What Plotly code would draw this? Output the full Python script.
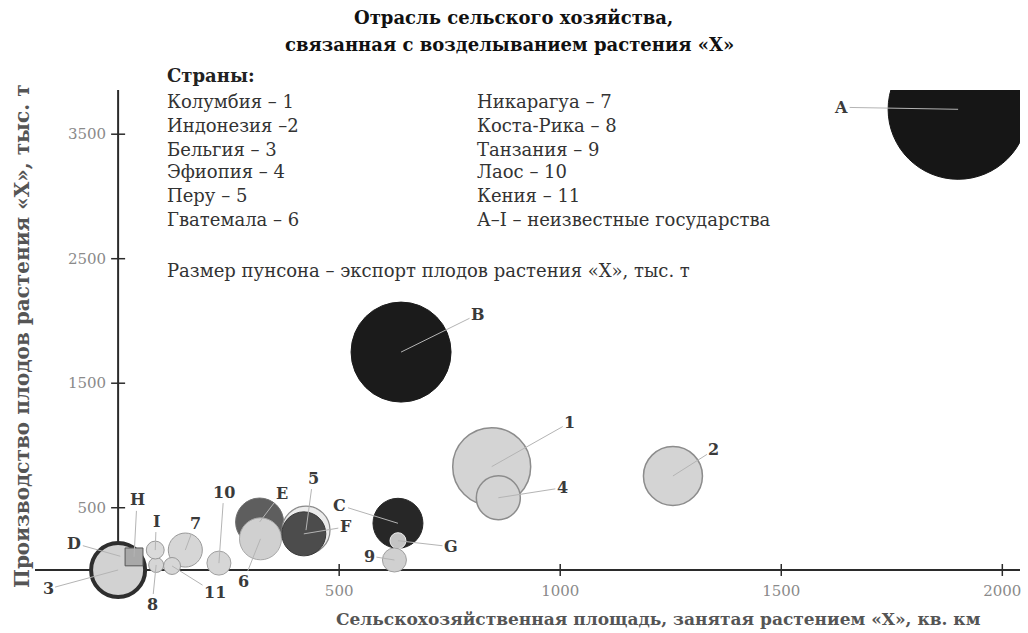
import plotly.graph_objects as go

# ---------------- data ----------------
labels = ["A", "B", "1", "4", "2", "C", "G", "9", "E", "6", "5", "F",
          "10", "7", "11", "8", "I", "D", "3", "H"]
area_km2 = [1900, 640, 845, 860, 1255, 633, 633, 625, 320, 322, 425, 420,
            228, 152, 122, 86, 84, 5, 0, 36]
production_kt = [3700, 1750, 830, 580, 755, 375, 235, 80, 385, 250, 320, 290,
                 55, 160, 32, 40, 160, 110, 0, 105]
export_kt = [2450, 1250, 760, 242, 435, 312, 32, 72, 288, 220, 288, 242,
             72, 145, 36, 28, 40, 18, 365, 40]

x_ticks = [500, 1000, 1500, 2000]
x_ticktext = ["500", "1000", "1500", "2000"]
y_ticks = [500, 1500, 2500, 3500]
y_ticktext = ["500", "1500", "2500", "3500"]

countries_left = ["Колумбия – 1", "Индонезия –2", "Бельгия – 3",
                  "Эфиопия – 4", "Перу – 5", "Гватемала – 6"]
countries_right = ["Никарагуа – 7", "Коста-Рика – 8", "Танзания – 9",
                   "Лаос – 10", "Кения – 11", "А–I – неизвестные государства"]

# ---------------- styles ----------------
LIGHT = "#d4d4d4"
style = {
    "A": ("#161616", "#161616", 1), "B": ("#1b1b1b", "#1b1b1b", 1),
    "C": ("#272727", "#272727", 1), "1": (LIGHT, "#8c8c8c", 1.5),
    "4": (LIGHT, "#8c8c8c", 1.5), "2": (LIGHT, "#8c8c8c", 1.5),
    "G": ("#c4c4c4", "#eeeeee", 1), "9": ("#d0d0d0", "#a0a0a0", 1),
    "E": ("#5e5e5e", "#707070", 1), "6": ("#d0d0d0", "#a8a8a8", 1),
    "5": ("#ececec", "#8a8a8a", 1.2), "F": ("#4c4c4c", "#3a3a3a", 1),
    "10": ("#d6d6d6", "#a0a0a0", 1), "7": ("#d6d6d6", "#999999", 1),
    "11": ("#d6d6d6", "#999999", 1), "8": ("#d6d6d6", "#999999", 1),
    "I": ("#dadada", "#999999", 1), "D": ("#aaaaaa", "#888888", 1),
    "3": ("#d2d2d2", "#2e2e2e", 4), "H": ("#a8a8a8", "#555555", 1),
}
symbols = ["square" if l == "H" else "circle" for l in labels]

# label offsets (px) of the callout text from each bubble
offsets = {
    "A": (-117, -2), "B": (77, -38), "1": (78, -44), "2": (41, -26),
    "4": (64, -10), "C": (-58, -18), "G": (53, 6), "9": (-25, -4),
    "E": (22, -29), "6": (-17, 43), "5": (7, -52), "F": (42, -7),
    "10": (5, -71), "3": (-70, 19), "D": (-46, -13), "H": (3, -57),
    "I": (1, -29), "7": (10, -27), "8": (-4, 40), "11": (43, 27),
}

X_RANGE = [-188, 2040]
Y_RANGE = [-442, 3855]
SERIF = "DejaVu Serif"

fig = go.Figure()
fig.add_trace(go.Scatter(
    x=area_km2, y=production_kt, mode="markers",
    marker=dict(
        size=export_kt, sizemode="area", sizeref=0.25,
        color=[style[l][0] for l in labels],
        line=dict(color=[style[l][1] for l in labels],
                  width=[style[l][2] for l in labels]),
        symbol=symbols, opacity=1,
    ),
    text=labels, hoverinfo="text+x+y", showlegend=False,
))

# axes drawn through the origin
shapes = [
    dict(type="line", xref="x", yref="y", x0=X_RANGE[0], x1=X_RANGE[1], y0=0, y1=0,
         line=dict(color="#2b2b2b", width=2), layer="below"),
    dict(type="line", xref="x", yref="y", x0=0, x1=0, y0=0, y1=Y_RANGE[1],
         line=dict(color="#2b2b2b", width=2), layer="below"),
]
for t in x_ticks:
    shapes.append(dict(type="line", xref="x", yref="y", ysizemode="pixel", yanchor=0,
                       x0=t, x1=t, y0=-6, y1=6, line=dict(color="#2b2b2b", width=1.5),
                       layer="below"))
for t in y_ticks:
    shapes.append(dict(type="line", xref="x", yref="y", xsizemode="pixel", xanchor=0,
                       y0=t, y1=t, x0=-7, x1=7, line=dict(color="#2b2b2b", width=1.5),
                       layer="below"))

annotations = []
for l, xv, yv in zip(labels, area_km2, production_kt):
    ax, ay = offsets[l]
    annotations.append(dict(
        x=xv, y=yv, xref="x", yref="y", text=f"<b>{l}</b>", showarrow=True, arrowhead=0,
        arrowwidth=1, arrowcolor="#b4b4b4", ax=ax, ay=ay,
        font=dict(family=SERIF, size=16, color="#3a3a3a"),
    ))

L, R, T, B = 35, 1020, 90, 625
def px(xp):
    return (xp - L) / (R - L)
def py(yp):
    return (B - yp) / (B - T)

def txt(text, xp, yp, size, bold=False, color="#333333", xanchor="left", angle=0):
    annotations.append(dict(
        x=px(xp), y=py(yp), xref="paper", yref="paper", showarrow=False,
        text=f"<b>{text}</b>" if bold else text, xanchor=xanchor, yanchor="middle",
        textangle=angle, font=dict(family=SERIF, size=size, color=color),
    ))

# title
txt("Отрасль сельского хозяйства,", 513, 18, 18, True, "#111111", "center")
txt("связанная с возделыванием растения «Х»", 509, 44, 18, True, "#111111", "center")

# legend block
txt("Страны:", 165, 76, 18, True, "#222222")
row_y = [101, 125, 149, 172, 195, 219]
for name, yy in zip(countries_left, row_y):
    txt(name, 165, yy, 18, False, "#333333")
for name, yy in zip(countries_right, row_y):
    txt(name, 475, yy, 18, False, "#333333")
txt("Размер пунсона – экспорт плодов растения «Х», тыс. т", 165, 270, 18, False, "#333333")

# axis titles
txt("Сельскохозяйственная площадь, занятая растением «Х», кв. км", 658, 619, 17, True,
    "#555555", "center")
txt("Производство плодов растения «Х», тыс. т", 22, 336, 20, True, "#555555", "center", -90)

fig.update_layout(
    width=1028, height=633,
    margin=dict(l=L, r=1028 - R, t=T, b=633 - B),
    paper_bgcolor="white", plot_bgcolor="white",
    xaxis=dict(range=X_RANGE, tickvals=x_ticks, ticktext=x_ticktext,
               showgrid=False, zeroline=False, showline=False, ticks="",
               anchor="free", position=(0 - Y_RANGE[0]) / (Y_RANGE[1] - Y_RANGE[0]),
               ticklabelstandoff=10, automargin=False,
               tickfont=dict(family=SERIF, size=15, color="#8a8a8a")),
    yaxis=dict(range=Y_RANGE, tickvals=y_ticks, ticktext=y_ticktext,
               showgrid=False, zeroline=False, showline=False, ticks="",
               anchor="free", position=(0 - X_RANGE[0]) / (X_RANGE[1] - X_RANGE[0]),
               ticklabelstandoff=12, automargin=False,
               tickfont=dict(family=SERIF, size=15, color="#8a8a8a")),
    shapes=shapes, annotations=annotations, showlegend=False,
)

fig.write_html("out.html", config={"displayModeBar": False},
               post_script="document.body.style.margin='0';")
